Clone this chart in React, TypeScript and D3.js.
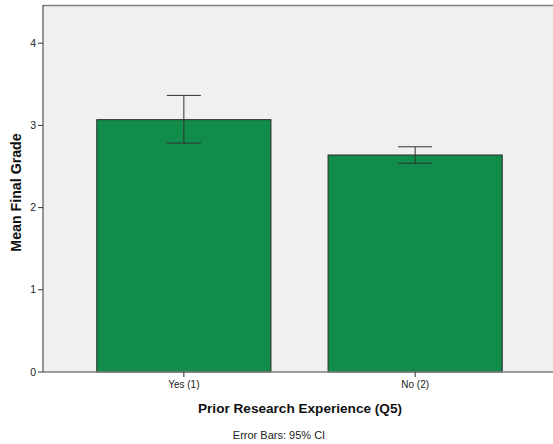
import React from "react";
import * as d3 from "d3";

const categories = ["Yes (1)", "No (2)"];
const means = [3.07, 2.64];
const ciLow = [2.785, 2.54];
const ciHigh = [3.365, 2.74];
const yTicks = [0, 1, 2, 3, 4];

const W = 553, H = 444;
const plotL = 43, plotR = 556, plotT = 5, plotB = 372;

export default function App() {
  const x = d3.scaleBand<string>().domain(categories).range([plotL, plotR]).paddingInner(0.247).paddingOuter(0.2325);
  const y = d3.scaleLinear().domain([0, 4.465]).range([plotB, plotT]);
  const bw = x.bandwidth();
  const cap = 34;
  return (
    <svg width={W} height={H} style={{ position: "absolute", left: 0, top: 0 }} fontFamily="Arial, Liberation Sans, sans-serif">
      <rect x={0} y={0} width={W} height={H} fill="#ffffff" />
      <rect x={plotL} y={plotT} width={plotR - plotL} height={plotB - plotT} fill="#f0f0f0" />
      <line x1={plotL} x2={plotR} y1={plotT + 0.5} y2={plotT + 0.5} stroke="#808080" strokeWidth={1.5} />
      {categories.map((c, i) => (
        <rect key={c} x={x(c)!} y={y(means[i])} width={bw} height={plotB - y(means[i])} fill="#118c4a" stroke="#2b2b2b" strokeWidth={1} />
      ))}
      {categories.map((c, i) => {
        const cx = x(c)! + bw / 2;
        return (
          <g key={"e" + c} stroke="#333" strokeWidth={1}>
            <line x1={cx} x2={cx} y1={y(ciHigh[i])} y2={y(ciLow[i])} />
            <line x1={cx - cap / 2} x2={cx + cap / 2} y1={y(ciHigh[i])} y2={y(ciHigh[i])} />
            <line x1={cx - cap / 2} x2={cx + cap / 2} y1={y(ciLow[i])} y2={y(ciLow[i])} />
          </g>
        );
      })}
      <line x1={plotL} x2={plotR} y1={plotB} y2={plotB} stroke="#808080" strokeWidth={1.5} />
      <line x1={plotL} x2={plotL} y1={plotT} y2={plotB} stroke="#333" strokeWidth={1} />
      {yTicks.map((t) => (
        <g key={t}>
          <line x1={plotL - 5} x2={plotL} y1={y(t)} y2={y(t)} stroke="#333" />
          <text x={plotL - 7} y={y(t)} dy="0.35em" textAnchor="end" fontSize={10.5} fill="#222">{t}</text>
        </g>
      ))}
      {categories.map((c) => {
        const cx = x(c)! + bw / 2;
        return (
          <g key={"t" + c}>
            <line x1={cx} x2={cx} y1={plotB} y2={plotB + 5} stroke="#333" />
            <text x={cx} y={plotB + 16} textAnchor="middle" fontSize={10} fill="#222">{c}</text>
          </g>
        );
      })}
      <text transform={`translate(20.5,192.5) rotate(-90)`} textAnchor="middle" fontSize={14.2} fontWeight="bold" fill="#111">Mean Final Grade</text>
      <text x={300} y={413} textAnchor="middle" fontSize={13.6} fontWeight="bold" fill="#111">Prior Research Experience (Q5)</text>
      <text x={279} y={439} textAnchor="middle" fontSize={11} fill="#222">Error Bars: 95% CI</text>
    </svg>
  );
}
